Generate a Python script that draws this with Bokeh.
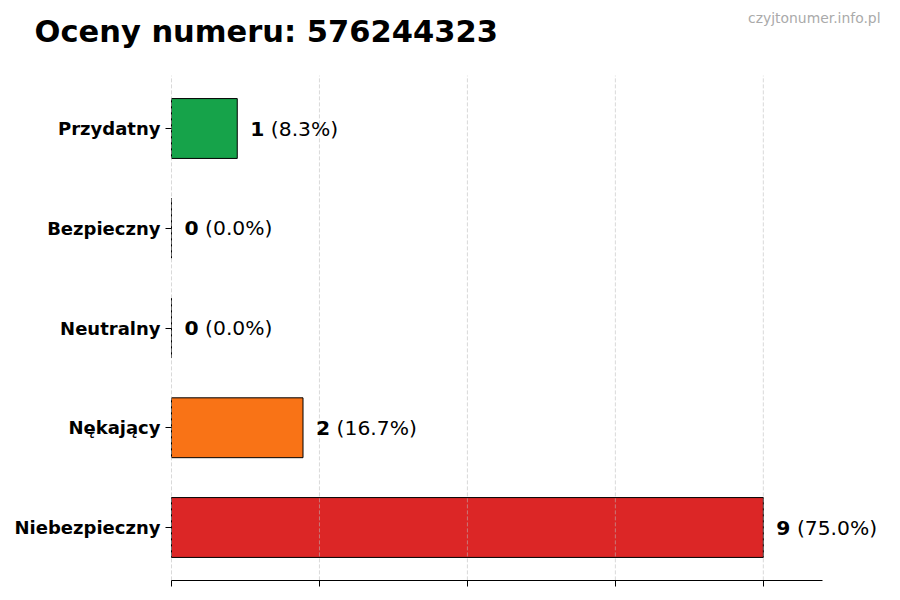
import numpy as np
from bokeh.plotting import figure
from bokeh.models import Range1d, FixedTicker, ColumnDataSource
from bokeh.core.properties import value
from bokeh.embed import file_html
from bokeh.resources import INLINE

title_text = "Oceny numeru: 576244323"
watermark = "czyjtonumer.info.pl"
categories = ["Niebezpieczny", "Nękający", "Neutralny", "Bezpieczny", "Przydatny"]
counts = [9, 2, 0, 0, 1]
colors = ["#dc2626", "#f97316", "#6b7280", "#3b82f6", "#16a34a"]

total = sum(counts)
ypos = list(range(len(categories)))
pct_text = [" (%.1f%%)" % (100.0 * c / total) for c in counts]
num_text = [str(c) for c in counts]
max_c = max(counts)

# ---- layout (pixels on the 900x600 canvas) ----
W, H = 900, 600
AX_L = 171          # pixel of value 0
AX_R = 822          # pixel of the end of the value axis
KX = (AX_R - AX_L) / (max_c * 1.1)   # px per unit along x
Y0_PX = 527         # pixel centre of first category
KY = 99.75          # px per category step
Y_LO, Y_HI = -0.53, len(categories) - 1 + 0.53   # plotted category extent

def px2x(px):
    return (px - AX_L) / KX

def px2y(py):
    return (Y0_PX - py) / KY

FONT = "DejaVu Sans"
VAL_FS = 20.3

p = figure(width=W, height=H, output_backend="svg", toolbar_location=None,
           x_range=Range1d(px2x(0), px2x(W)), y_range=Range1d(px2y(H), px2y(0)),
           min_border_left=0, min_border_right=0, min_border_top=0, min_border_bottom=0)
p.outline_line_color = None
p.background_fill_color = "white"
p.border_fill_color = "white"

src = ColumnDataSource(dict(y=ypos, right=counts, color=colors, num=num_text, pct=pct_text,
                            tx=[c + px2x(AX_L + 13) for c in counts],
                            off=[len(s) * 0.696 * VAL_FS + 0.318 * VAL_FS for s in num_text]))

p.hbar(y="y", left=0, right="right", height=0.6, source=src, fill_color="color",
       line_color="black", line_width=1)

# vertical dashed grid lines over the value-axis ticks
ticks = list(np.linspace(0, max_c, 5))
p.segment(x0=ticks, x1=ticks, y0=[Y_LO] * len(ticks), y1=[Y_HI] * len(ticks),
          line_color="#bbbbbb", line_dash="4 2", line_width=0.8, line_alpha=0.7)

p.text(x="tx", y="y", text="num", source=src, text_font=value(FONT), text_font_style="bold",
       text_font_size=f"{VAL_FS}px", text_baseline="middle", text_align="left", text_color="black")
p.text(x="tx", y="y", text="pct", source=src, x_offset="off", text_font=value(FONT),
       text_font_size=f"{VAL_FS}px", text_baseline="middle", text_align="left", text_color="black")

# title and watermark
p.text(x=[px2x(34)], y=[px2y(31)], text=[title_text], text_font=value(FONT),
       text_font_style="bold", text_font_size="30.5px", text_baseline="middle",
       text_align="left", text_color="black")
p.text(x=[px2x(880)], y=[px2y(17)], text=[watermark], text_font=value(FONT),
       text_font_size="13.9px", text_baseline="middle", text_align="right", text_color="#aaaaaa")

# x axis (drawn at the bottom of the category extent)
p.xaxis.fixed_location = Y_LO
p.xaxis.bounds = (0, max_c * 1.1)
p.xaxis.ticker = FixedTicker(ticks=ticks)
p.xaxis.major_label_overrides = {t: "" for t in ticks}
p.xaxis.major_tick_out = 6
p.xaxis.major_tick_in = 0
p.xaxis.minor_tick_line_color = None
p.xaxis.axis_line_color = "black"
p.xaxis.major_tick_line_color = "black"

# y axis (categories)
p.yaxis.fixed_location = 0
p.yaxis.ticker = FixedTicker(ticks=ypos)
p.yaxis.major_label_overrides = {i: c for i, c in zip(ypos, categories)}
p.yaxis.major_label_text_font = FONT
p.yaxis.major_label_text_font_style = "bold"
p.yaxis.major_label_text_font_size = "18px"
p.yaxis.major_label_text_color = "black"
p.yaxis.major_label_standoff = 5
p.yaxis.major_tick_out = 6
p.yaxis.major_tick_in = 0
p.yaxis.minor_tick_line_color = None
p.yaxis.axis_line_color = None
p.yaxis.major_tick_line_color = "black"

p.xgrid.grid_line_color = None
p.ygrid.grid_line_color = None

open("out.html", "w").write(file_html(p, INLINE))
